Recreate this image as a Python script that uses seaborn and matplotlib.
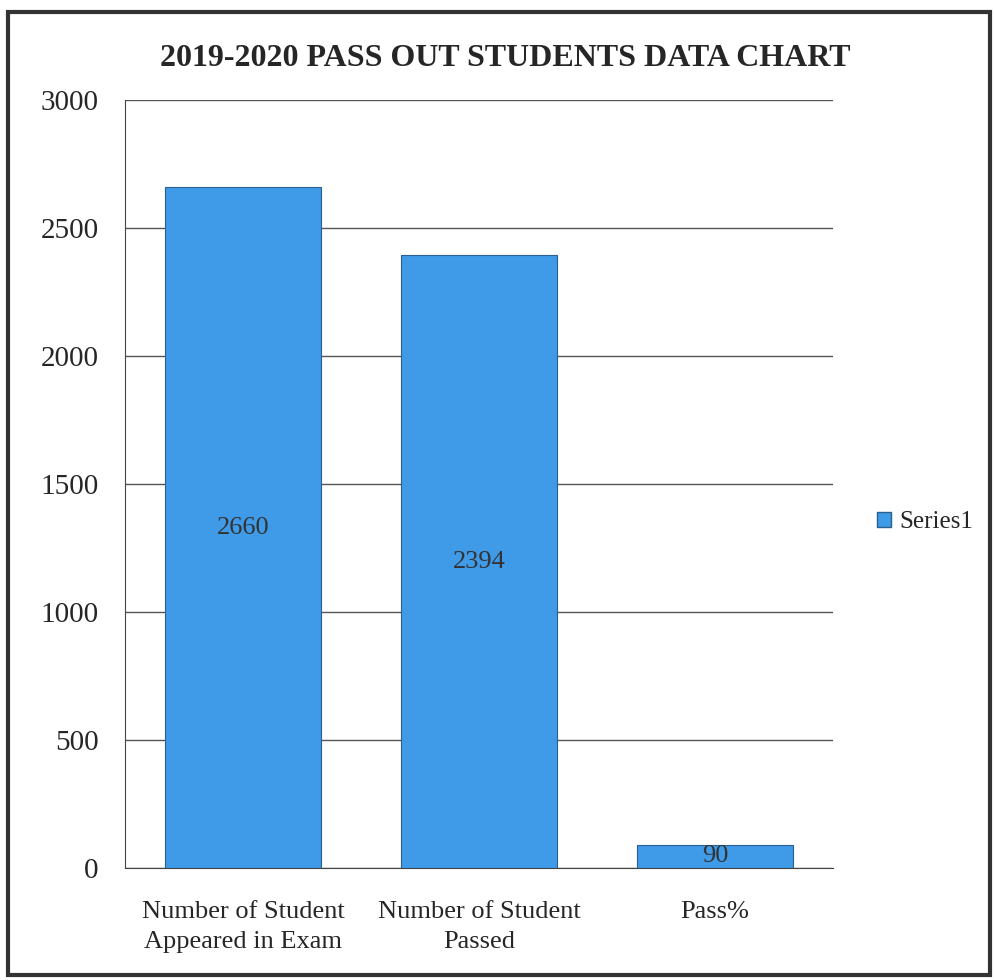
import matplotlib.pyplot as plt
import matplotlib.patches as mpatches
import seaborn as sns
import pandas as pd

categories = ["Number of Student\nAppeared in Exam", "Number of Student\nPassed", "Pass%"]
values = [2660, 2394, 90]
series_name = "Series1"
title = "2019-2020 PASS OUT STUDENTS DATA CHART"

df = pd.DataFrame({"category": categories, "value": values})

sns.set_style("white")
plt.rcParams['font.family'] = ['Liberation Serif', 'DejaVu Serif']

fig = plt.figure(figsize=(9.95, 9.8), dpi=100)
ax = fig.add_axes([125 / 995, 1 - 868 / 980, 708 / 995, 768 / 980])

bar_color = "#3f9ae8"
sns.barplot(data=df, x="category", y="value", color=bar_color, width=0.66,
            edgecolor="#2a5f8f", linewidth=0.8, saturation=1, ax=ax, zorder=3)

for p, v in zip(ax.patches, values):
    ax.text(p.get_x() + p.get_width() / 2, v / 2, str(v), ha="center", va="center",
            fontsize=19, color="#333333", zorder=4)

ax.set_ylim(0, 3000)
ax.set_yticks(range(0, 3001, 500))
ax.yaxis.grid(True, color="#555555", linewidth=1.0, zorder=0)
ax.set_axisbelow(True)
ax.set_xlabel("")
ax.set_ylabel("")
ax.tick_params(axis="y", labelsize=21, pad=19, length=0)
ax.tick_params(axis="x", labelsize=19, pad=24, length=0)
for lbl in ax.get_xticklabels():
    lbl.set_linespacing(1.45)
for s in ["top", "right"]:
    ax.spines[s].set_visible(False)
ax.spines["left"].set_color("#444444")
ax.spines["bottom"].set_color("#444444")

fig.text(505 / 995, 1 - 58 / 980, title, ha="center", va="center",
         fontsize=23, fontweight="bold")

handle = mpatches.Patch(facecolor=bar_color, edgecolor="#2a5f8f", label=series_name)
fig.legend(handles=[handle], loc="center left", bbox_to_anchor=(877 / 995, 1 - 522 / 980),
           frameon=False, fontsize=18, handlelength=0.55, handleheight=0.55, handletextpad=0.35,
           borderaxespad=0, borderpad=0)

border = mpatches.Rectangle((8 / 995, 5 / 980), 982 / 995, 963 / 980, transform=fig.transFigure,
                            fill=False, edgecolor="#333333", linewidth=3)
fig.add_artist(border)

fig.savefig("out.png", dpi=100, facecolor="white")
